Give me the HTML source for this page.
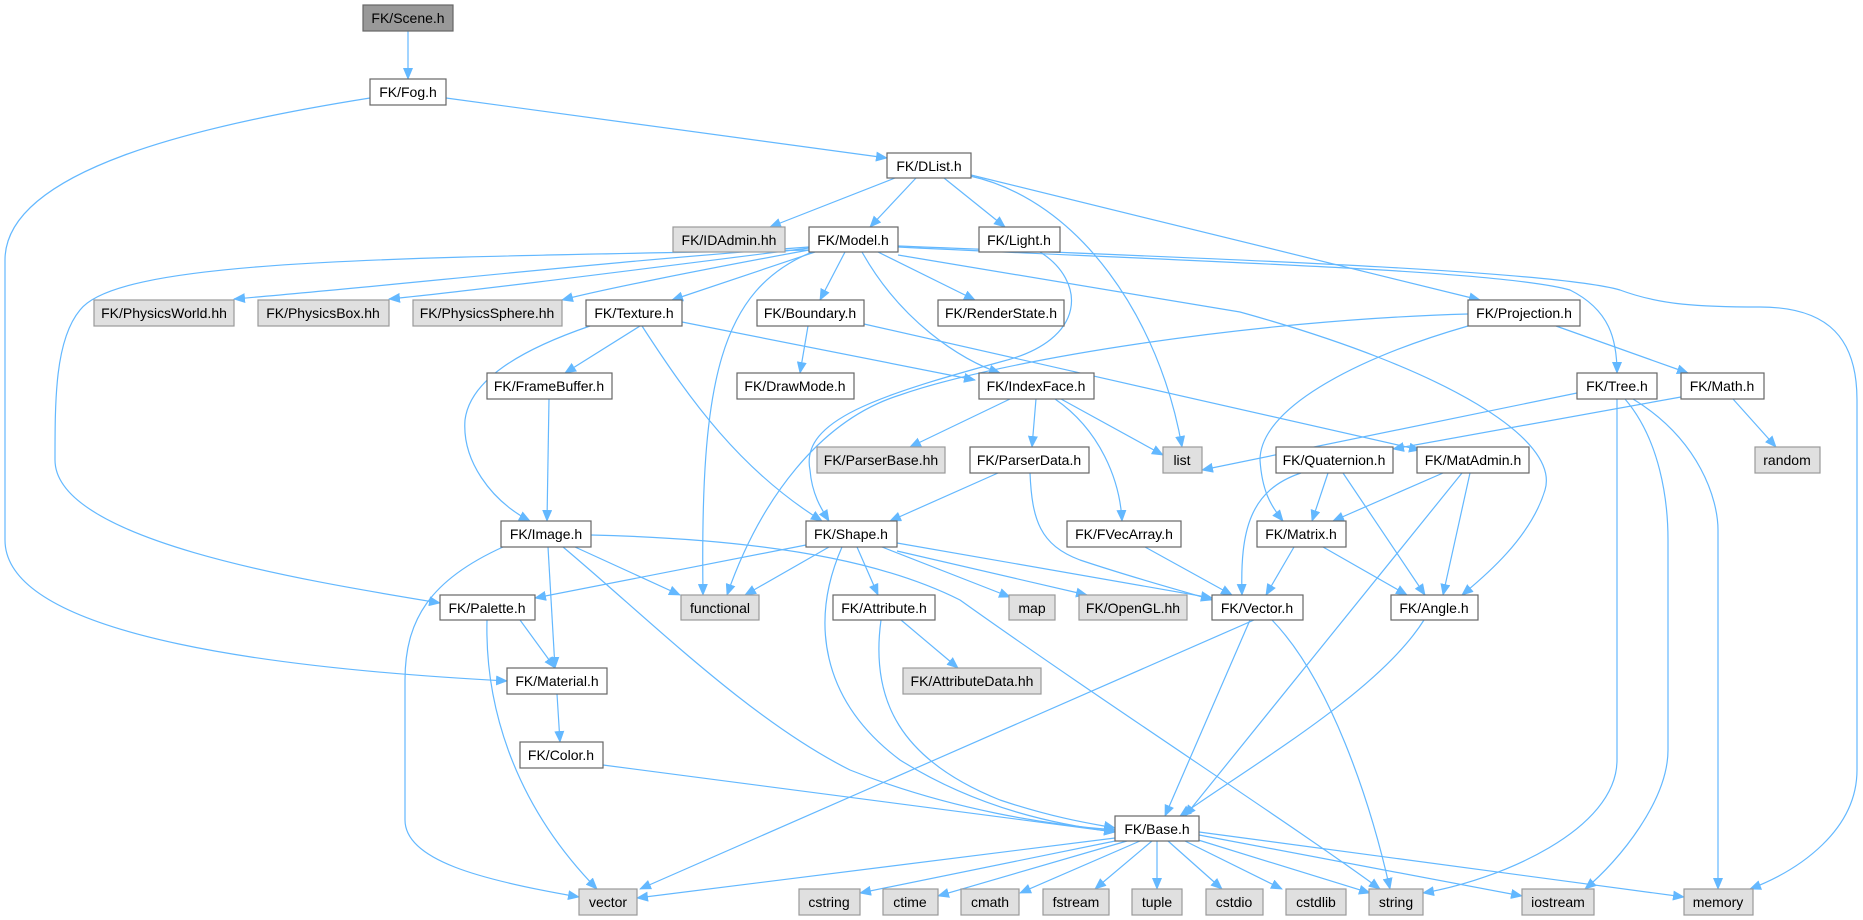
<!DOCTYPE html>
<html><head><meta charset="utf-8"><style>
html,body{margin:0;padding:0;background:#fff;}
svg{display:block;}
text{font-family:"Liberation Sans",Arial,sans-serif;font-size:14px;fill:#000;}
.n{fill:#fff;stroke:#666;stroke-width:1.2;}
.g{fill:#e0e0e0;stroke:#999;stroke-width:1.2;}
.r{fill:#999;stroke:#666;stroke-width:1.2;}
.e{fill:none;stroke:#63b8ff;stroke-width:1.2;marker-end:url(#a);}
</style></head><body>
<svg width="1863" height="920" viewBox="0 0 1863 920" xmlns="http://www.w3.org/2000/svg">
<defs><marker id="a" markerWidth="12" markerHeight="10" refX="11" refY="5" orient="auto" markerUnits="userSpaceOnUse"><path d="M0,0 L12,5 L0,10 z" fill="#63b8ff"/></marker></defs>
<g>
<path class="e" d="M408,31 L408,79"/>
<path class="e" d="M446,98 L887,158"/>
<path class="e" d="M370,98 C200,125 5,170 5,260 L5,540 C5,640 300,670 507,681"/>
<path class="e" d="M895,178 L770,227"/>
<path class="e" d="M916,178 L870,227"/>
<path class="e" d="M944,178 L1005,227"/>
<path class="e" d="M970,176 C1080,200 1160,320 1182,447"/>
<path class="e" d="M971,175 L1480,300"/>
<path class="e" d="M809,247 C600,262 400,285 234,299"/>
<path class="e" d="M809,248 C650,268 480,290 389,299"/>
<path class="e" d="M809,250 C700,270 600,290 562,300"/>
<path class="e" d="M815,252 L672,300"/>
<path class="e" d="M809,250 C400,258 120,258 80,310 C55,340 55,400 55,460 C55,540 300,580 440,603"/>
<path class="e" d="M812,252 C720,290 700,380 703,595"/>
<path class="e" d="M845,252 L820,300"/>
<path class="e" d="M862,252 C900,320 960,360 1000,373"/>
<path class="e" d="M878,252 L975,300"/>
<path class="e" d="M898,255 L1240,312 C1450,370 1560,440 1545,490 C1530,540 1480,580 1462,595"/>
<path class="e" d="M898,247 C1200,262 1500,270 1570,290 C1610,310 1617,340 1617,373"/>
<path class="e" d="M898,246 C1200,258 1550,270 1620,290 C1660,305 1700,307 1760,307 C1830,307 1857,340 1857,400 L1857,770 C1857,830 1800,870 1750,889"/>
<path class="e" d="M1040,252 C1085,280 1090,340 1000,362 C880,395 800,420 810,470 C812,495 822,510 829,521"/>
<path class="e" d="M640,326 L565,373"/>
<path class="e" d="M590,326 C520,350 470,380 465,420 C462,460 490,500 530,521"/>
<path class="e" d="M642,326 C690,400 740,470 822,521"/>
<path class="e" d="M682,322 L975,380"/>
<path class="e" d="M808,326 L800,373"/>
<path class="e" d="M864,324 L1420,450"/>
<path class="e" d="M549,399 L547,521"/>
<path class="e" d="M1468,314 C1250,320 1000,360 900,395 C820,420 760,500 727,595"/>
<path class="e" d="M1468,326 C1350,360 1260,410 1260,460 C1262,490 1270,505 1283,521"/>
<path class="e" d="M1556,326 L1688,373"/>
<path class="e" d="M1010,399 L910,447"/>
<path class="e" d="M1036,399 L1032,447"/>
<path class="e" d="M1061,399 L1163,455"/>
<path class="e" d="M1055,399 C1100,430 1120,480 1122,521"/>
<path class="e" d="M998,473 L890,521"/>
<path class="e" d="M1030,473 C1032,520 1040,545 1080,560 C1140,580 1180,590 1212,600"/>
<path class="e" d="M1577,393 L1202,470"/>
<path class="e" d="M1617,399 L1617,760 C1617,830 1500,880 1423,893"/>
<path class="e" d="M1625,399 C1660,440 1668,500 1668,540 L1668,750 C1668,800 1620,860 1585,889"/>
<path class="e" d="M1633,399 C1700,440 1718,500 1718,530 L1718,889"/>
<path class="e" d="M1681,397 L1393,449"/>
<path class="e" d="M1733,399 L1776,447"/>
<path class="e" d="M1328,473 L1312,521"/>
<path class="e" d="M1343,473 L1425,595"/>
<path class="e" d="M1301,473 C1250,490 1240,530 1242,595"/>
<path class="e" d="M1443,473 L1333,521"/>
<path class="e" d="M1470,473 L1443,595"/>
<path class="e" d="M1462,473 L1185,816"/>
<path class="e" d="M1294,547 L1266,595"/>
<path class="e" d="M1323,547 L1407,595"/>
<path class="e" d="M1254,620 L640,889"/>
<path class="e" d="M1250,620 L1165,816"/>
<path class="e" d="M1272,620 C1330,680 1370,800 1390,889"/>
<path class="e" d="M1424,620 C1380,690 1260,760 1180,816"/>
<path class="e" d="M1145,547 L1232,595"/>
<path class="e" d="M575,547 L680,595"/>
<path class="e" d="M563,547 C650,620 750,720 850,770 C950,810 1050,825 1115,830"/>
<path class="e" d="M548,547 L555,668"/>
<path class="e" d="M503,547 C430,580 405,620 405,680 L405,820 C405,860 480,880 579,897"/>
<path class="e" d="M591,535 C800,540 900,570 960,600 C1100,700 1300,830 1380,889"/>
<path class="e" d="M806,545 L535,598"/>
<path class="e" d="M520,620 L555,668"/>
<path class="e" d="M487,620 C485,700 510,800 597,889"/>
<path class="e" d="M557,694 L560,742"/>
<path class="e" d="M603,765 L1115,832"/>
<path class="e" d="M829,547 L745,595"/>
<path class="e" d="M842,547 C810,620 820,700 900,760 C980,810 1060,825 1115,832"/>
<path class="e" d="M857,547 L878,595"/>
<path class="e" d="M882,547 L1010,597"/>
<path class="e" d="M897,551 L1087,595"/>
<path class="e" d="M897,543 L1212,598"/>
<path class="e" d="M881,620 C870,700 900,760 1000,800 C1060,820 1100,825 1115,828"/>
<path class="e" d="M901,620 L958,668"/>
<path class="e" d="M1115,838 L637,898"/>
<path class="e" d="M1120,840 L860,893"/>
<path class="e" d="M1127,841 L938,896"/>
<path class="e" d="M1140,841 L1020,893"/>
<path class="e" d="M1152,841 L1095,889"/>
<path class="e" d="M1157,841 L1157,889"/>
<path class="e" d="M1168,841 L1222,889"/>
<path class="e" d="M1185,841 L1282,889"/>
<path class="e" d="M1195,839 L1370,893"/>
<path class="e" d="M1199,835 L1522,896"/>
<path class="e" d="M1199,832 L1684,897"/>
</g>
<g text-anchor="middle">
<rect class="r" x="363" y="5" width="90" height="26"/><text x="408" y="23">FK/Scene.h</text>
<rect class="n" x="370" y="79" width="76" height="26"/><text x="408" y="97">FK/Fog.h</text>
<rect class="n" x="887" y="153" width="84" height="25"/><text x="929" y="171">FK/DList.h</text>
<rect class="g" x="673" y="227" width="112" height="25"/><text x="729" y="245">FK/IDAdmin.hh</text>
<rect class="n" x="809" y="227" width="89" height="25"/><text x="853" y="245">FK/Model.h</text>
<rect class="n" x="979" y="227" width="81" height="25"/><text x="1019" y="245">FK/Light.h</text>
<rect class="g" x="94" y="300" width="140" height="26"/><text x="164" y="318">FK/PhysicsWorld.hh</text>
<rect class="g" x="258" y="300" width="131" height="26"/><text x="323" y="318">FK/PhysicsBox.hh</text>
<rect class="g" x="413" y="300" width="149" height="26"/><text x="487" y="318">FK/PhysicsSphere.hh</text>
<rect class="n" x="586" y="300" width="96" height="26"/><text x="634" y="318">FK/Texture.h</text>
<rect class="n" x="757" y="300" width="107" height="26"/><text x="810" y="318">FK/Boundary.h</text>
<rect class="n" x="938" y="300" width="126" height="26"/><text x="1001" y="318">FK/RenderState.h</text>
<rect class="n" x="1468" y="300" width="112" height="26"/><text x="1524" y="318">FK/Projection.h</text>
<rect class="n" x="487" y="373" width="125" height="26"/><text x="549" y="391">FK/FrameBuffer.h</text>
<rect class="n" x="737" y="373" width="117" height="26"/><text x="795" y="391">FK/DrawMode.h</text>
<rect class="n" x="979" y="373" width="115" height="26"/><text x="1036" y="391">FK/IndexFace.h</text>
<rect class="n" x="1577" y="373" width="80" height="26"/><text x="1617" y="391">FK/Tree.h</text>
<rect class="n" x="1681" y="373" width="83" height="26"/><text x="1722" y="391">FK/Math.h</text>
<rect class="g" x="817" y="447" width="128" height="26"/><text x="881" y="465">FK/ParserBase.hh</text>
<rect class="n" x="970" y="447" width="119" height="26"/><text x="1029" y="465">FK/ParserData.h</text>
<rect class="g" x="1163" y="447" width="39" height="26"/><text x="1182" y="465">list</text>
<rect class="n" x="1276" y="447" width="117" height="26"/><text x="1334" y="465">FK/Quaternion.h</text>
<rect class="n" x="1417" y="447" width="112" height="26"/><text x="1473" y="465">FK/MatAdmin.h</text>
<rect class="g" x="1755" y="447" width="65" height="26"/><text x="1787" y="465">random</text>
<rect class="n" x="501" y="521" width="90" height="26"/><text x="546" y="539">FK/Image.h</text>
<rect class="n" x="806" y="521" width="91" height="26"/><text x="851" y="539">FK/Shape.h</text>
<rect class="n" x="1067" y="521" width="114" height="26"/><text x="1124" y="539">FK/FVecArray.h</text>
<rect class="n" x="1257" y="521" width="89" height="26"/><text x="1301" y="539">FK/Matrix.h</text>
<rect class="n" x="440" y="595" width="95" height="25"/><text x="487" y="613">FK/Palette.h</text>
<rect class="g" x="681" y="595" width="78" height="25"/><text x="720" y="613">functional</text>
<rect class="n" x="833" y="595" width="102" height="25"/><text x="884" y="613">FK/Attribute.h</text>
<rect class="g" x="1009" y="595" width="46" height="25"/><text x="1032" y="613">map</text>
<rect class="g" x="1079" y="595" width="108" height="25"/><text x="1133" y="613">FK/OpenGL.hh</text>
<rect class="n" x="1212" y="595" width="91" height="25"/><text x="1257" y="613">FK/Vector.h</text>
<rect class="n" x="1391" y="595" width="87" height="25"/><text x="1434" y="613">FK/Angle.h</text>
<rect class="n" x="507" y="668" width="100" height="26"/><text x="557" y="686">FK/Material.h</text>
<rect class="g" x="903" y="668" width="138" height="26"/><text x="972" y="686">FK/AttributeData.hh</text>
<rect class="n" x="520" y="742" width="83" height="26"/><text x="561" y="760">FK/Color.h</text>
<rect class="n" x="1115" y="816" width="84" height="25"/><text x="1157" y="834">FK/Base.h</text>
<rect class="g" x="579" y="889" width="58" height="26"/><text x="608" y="907">vector</text>
<rect class="g" x="799" y="889" width="61" height="26"/><text x="829" y="907">cstring</text>
<rect class="g" x="883" y="889" width="55" height="26"/><text x="910" y="907">ctime</text>
<rect class="g" x="961" y="889" width="58" height="26"/><text x="990" y="907">cmath</text>
<rect class="g" x="1043" y="889" width="66" height="26"/><text x="1076" y="907">fstream</text>
<rect class="g" x="1132" y="889" width="50" height="26"/><text x="1157" y="907">tuple</text>
<rect class="g" x="1206" y="889" width="57" height="26"/><text x="1234" y="907">cstdio</text>
<rect class="g" x="1286" y="889" width="60" height="26"/><text x="1316" y="907">cstdlib</text>
<rect class="g" x="1369" y="889" width="54" height="26"/><text x="1396" y="907">string</text>
<rect class="g" x="1522" y="889" width="72" height="26"/><text x="1558" y="907">iostream</text>
<rect class="g" x="1684" y="889" width="69" height="26"/><text x="1718" y="907">memory</text>
</g>
</svg>
</body></html>
